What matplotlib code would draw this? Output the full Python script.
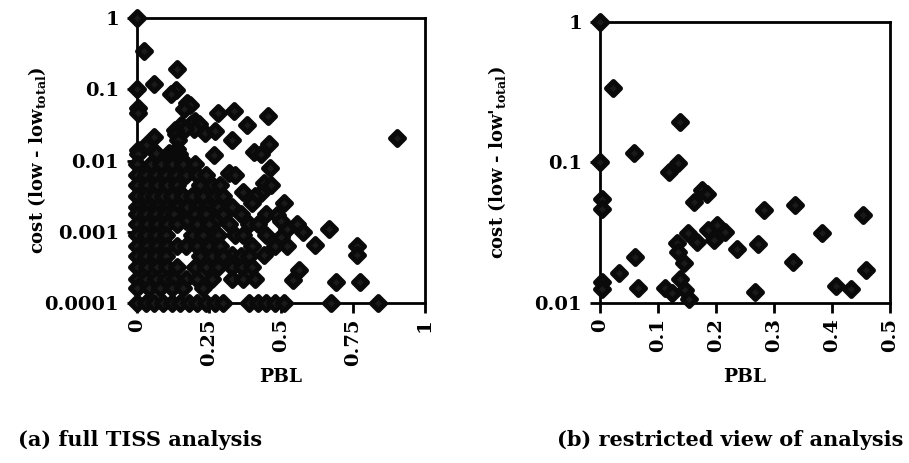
import matplotlib
matplotlib.use("Agg")
import matplotlib.pyplot as plt
import numpy as np
from matplotlib.markers import MarkerStyle
from matplotlib.ticker import NullLocator, FixedLocator, FixedFormatter

plt.rcParams['font.family'] = ['DejaVu Serif']
plt.rcParams['mathtext.fontset'] = 'custom'
plt.rcParams['mathtext.rm'] = 'DejaVu Serif:bold'
plt.rcParams['mathtext.it'] = 'DejaVu Serif:bold'
plt.rcParams['mathtext.bf'] = 'DejaVu Serif:bold'

# ---- data: points with cost >= 0.01 (shown in both panels when PBL <= 0.5)
pbl_upper = [0, 0.023, 0.138, 0.059, 0, 0.135, 0.119, 0.175, 0.184, 0.162,
             0.003, 0.003, 0.282, 0.336, 0.454, 0.383, 0.201, 0.216, 0.187, 0.197,
             0.152, 0.167, 0.236, 0.273, 0.132, 0.135, 0.144, 0.060, 0.332, 0.459,
             0.033, 0.003, 0.003, 0.065, 0.112, 0.124, 0.138, 0.147, 0.154, 0.267,
             0.407, 0.432, 0.903]
cost_upper = [1, 0.34, 0.195, 0.117, 0.1, 0.099, 0.086, 0.0636, 0.060, 0.052,
              0.0546, 0.0464, 0.0458, 0.0497, 0.0422, 0.0313, 0.0358, 0.0321, 0.033, 0.028,
              0.0316, 0.0273, 0.0241, 0.0263, 0.0266, 0.0232, 0.0191, 0.0213, 0.0195, 0.0172,
              0.0163, 0.0142, 0.0125, 0.0127, 0.0127, 0.0117, 0.0147, 0.0124, 0.0106, 0.012,
              0.0132, 0.0125, 0.0205]

# ---- data: points with cost < 0.01 (full view only)
pbl_lower = [
    0, 0.05, 0.085, 0.12, 0.16, 0.20,
    0, 0.03, 0.065, 0.10, 0.135, 0.17, 0.21, 0.24, 0.32, 0.34, 0.463,
    0, 0.035, 0.07, 0.105, 0.14, 0.22, 0.26, 0.29, 0.44, 0.465,
    0.15, 0.37, 0.43,
    0, 0.03, 0.06, 0.09, 0.12, 0.16, 0.19, 0.23, 0.27, 0.30, 0.41,
    0.51, 0.40,
    0, 0.035, 0.07, 0.105, 0.14, 0.175, 0.21, 0.245, 0.28, 0.33,
    0, 0.03, 0.065, 0.10, 0.13, 0.20, 0.24, 0.30, 0.36, 0.45, 0.486,
    0.17, 0.27, 0.50, 0.555,
    0, 0.035, 0.07, 0.105, 0.14, 0.21, 0.25, 0.32, 0.39, 0.42, 0.52,
    0.578, 0.669,
    0, 0.03, 0.065, 0.10, 0.19, 0.23, 0.28, 0.34, 0.37, 0.45, 0.50,
    0, 0.035, 0.07, 0.105, 0.14, 0.17, 0.21, 0.25, 0.29, 0.40, 0.48, 0.52, 0.619, 0.766,
    0.766, 0.33, 0.44,
    0, 0.03, 0.065, 0.10, 0.22, 0.26, 0.30, 0.36, 0.39,
    0, 0.035, 0.07, 0.105, 0.14, 0.20, 0.24, 0.28, 0.33, 0.365, 0.40, 0.565,
    0, 0.03, 0.065, 0.10, 0.13, 0.17, 0.21, 0.26, 0.33, 0.37, 0.41, 0.544,
    0.692, 0.776,
    0, 0.04, 0.08, 0.12, 0.16, 0.23,
    0, 0.03, 0.06, 0.09, 0.12, 0.15, 0.18, 0.21, 0.24, 0.27, 0.30,
    0.39, 0.42, 0.45, 0.48, 0.51, 0.675, 0.839,
]
cost_lower = [
    0.0089, 0.0089, 0.0089, 0.0089, 0.0089, 0.0089,
    0.0063, 0.0063, 0.0063, 0.0063, 0.0063, 0.0063, 0.0063, 0.0063, 0.0066, 0.0062, 0.0078,
    0.0045, 0.0045, 0.0045, 0.0045, 0.0045, 0.0045, 0.0045, 0.0045, 0.0048, 0.0045,
    0.0035, 0.0036, 0.0035,
    0.0032, 0.0032, 0.0032, 0.0032, 0.0032, 0.0032, 0.0032, 0.0032, 0.0032, 0.0032, 0.0032,
    0.0025, 0.0025,
    0.0022, 0.0022, 0.0022, 0.0022, 0.0022, 0.0022, 0.0022, 0.0022, 0.0022, 0.0022,
    0.0018, 0.0018, 0.0018, 0.0018, 0.0018, 0.0018, 0.0018, 0.0018, 0.0018, 0.0018, 0.0017,
    0.0014, 0.0014, 0.0014, 0.0013,
    0.0013, 0.0013, 0.0013, 0.0013, 0.0013, 0.0013, 0.0013, 0.0013, 0.0013, 0.0013, 0.0011,
    0.001, 0.00108,
    0.00089, 0.00089, 0.00089, 0.00089, 0.00089, 0.00089, 0.00089, 0.00089, 0.00089, 0.00089, 0.00085,
    0.00063, 0.00063, 0.00063, 0.00063, 0.00063, 0.00063, 0.00063, 0.00063, 0.00063, 0.00063, 0.00063, 0.00063, 0.00065, 0.00063,
    0.00047, 0.00047, 0.00047,
    0.00045, 0.00045, 0.00045, 0.00045, 0.00045, 0.00045, 0.00045, 0.00045, 0.00045,
    0.00032, 0.00032, 0.00032, 0.00032, 0.00032, 0.00032, 0.00032, 0.00032, 0.00032, 0.00032, 0.00032, 0.00029,
    0.00022, 0.00022, 0.00022, 0.00022, 0.00022, 0.00022, 0.00022, 0.00022, 0.00022, 0.00022, 0.00022, 0.00021,
    0.0002, 0.0002,
    0.00016, 0.00016, 0.00016, 0.00016, 0.00016, 0.00016,
    0.0001, 0.0001, 0.0001, 0.0001, 0.0001, 0.0001, 0.0001, 0.0001, 0.0001, 0.0001, 0.0001,
    0.0001, 0.0001, 0.0001, 0.0001, 0.0001, 0.0001, 0.0001,
]

full_xticks = [0, 0.25, 0.5, 0.75, 1]
full_xlabels = ['0', '0.25', '0.5', '0.75', '1']
full_yticks = [0.0001, 0.001, 0.01, 0.1, 1]
full_ylabels = ['0.0001', '0.001', '0.01', '0.1', '1']
zoom_xticks = [0, 0.1, 0.2, 0.3, 0.4, 0.5]
zoom_xlabels = ['0', '0.1', '0.2', '0.3', '0.4', '0.5']
zoom_yticks = [0.01, 0.1, 1]
zoom_ylabels = ['0.01', '0.1', '1']

pbl_all = np.array(pbl_upper + pbl_lower)
cost_all = np.array(cost_upper + cost_lower)
mask = (pbl_all <= 0.5) & (cost_all >= 0.01)

W, H = 909, 463
fig = plt.figure(figsize=(W / 100, H / 100), dpi=100)
ax1 = fig.add_axes([137 / W, 1 - 303 / H, (424.5 - 137) / W, (303 - 18) / H])
ax2 = fig.add_axes([600 / W, 1 - 303 / H, (890 - 600) / W, (303 - 21.7) / H])

mk = MarkerStyle('D', joinstyle='round')
tick_font = dict(family='DejaVu Serif', weight='bold', size=14)
marker_kw = dict(linestyle='none', marker=mk, ms=7.0, mfc='#1a1a1a', mec='#0a0a0a',
                 mew=3.6, clip_on=False, zorder=3)


def style(ax, xt, xl, yt, yl, xlim, ylim, ylabel, ylab_x, xlab_y):
    ax.set_yscale('log')
    ax.set_xlim(*xlim)
    ax.set_ylim(*ylim)
    ax.xaxis.set_major_locator(FixedLocator(xt))
    ax.xaxis.set_major_formatter(FixedFormatter(xl))
    ax.yaxis.set_major_locator(FixedLocator(yt))
    ax.yaxis.set_major_formatter(FixedFormatter(yl))
    ax.yaxis.set_minor_locator(NullLocator())
    ax.xaxis.set_minor_locator(NullLocator())
    for s in ax.spines.values():
        s.set_linewidth(2.0)
        s.set_color('black')
    ax.tick_params(axis='y', direction='out', length=7, width=2.0, color='black', pad=6)
    ax.tick_params(axis='x', direction='out', length=7, width=2.0, color='black', pad=4)
    for lab in ax.get_xticklabels():
        lab.set_rotation(90)
        lab.set_fontproperties(tick_font)
    for lab in ax.get_yticklabels():
        lab.set_fontproperties(tick_font)
    ax.set_xlabel('PBL', fontsize=13.5, fontweight='bold', va='center')
    ax.xaxis.set_label_coords(0.5, xlab_y)
    ax.set_ylabel(ylabel, fontsize=13, fontweight='bold', va='center')
    ax.yaxis.set_label_coords(ylab_x, 0.5)


ax1.plot(pbl_all, cost_all, **marker_kw)
ax2.plot(pbl_all[mask], cost_all[mask], **marker_kw)

style(ax1, full_xticks, full_xlabels, full_yticks, full_ylabels, (0, 1), (0.0001, 1),
      r'cost (low - low$_{\mathrm{total}}$)', (37 - 137) / 287.5, (303 - 377) / 285)
style(ax2, zoom_xticks, zoom_xlabels, zoom_yticks, zoom_ylabels, (0, 0.5), (0.01, 1),
      r"cost (low - low'$_{\mathrm{total}}$)", (497 - 600) / 290, (303 - 377) / 281.3)

fig.text(18 / W, 1 - 440 / H, '(a) full TISS analysis', fontsize=15, fontweight='bold',
         family='DejaVu Serif', va='center', ha='left')
fig.text(557 / W, 1 - 440 / H, '(b) restricted view of analysis', fontsize=15, fontweight='bold',
         family='DejaVu Serif', va='center', ha='left')

fig.savefig('out.png', dpi=100, facecolor='white')
